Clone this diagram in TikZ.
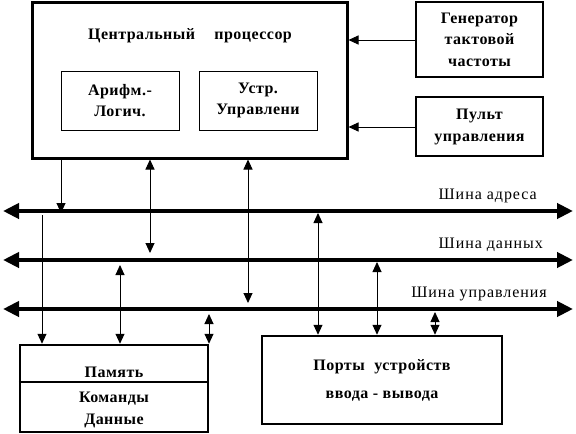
\documentclass[tikz,border=0pt]{standalone}
\usepackage{fontspec}
\setmainfont{Liberation Serif}
\usetikzlibrary{arrows.meta}
\newcommand\bxfont[1]{\bfseries\fontsize{16}{#1}\selectfont\addfontfeature{LetterSpace=3}}
\tikzset{
  bx/.style={draw, line width=#1, rectangle, inner sep=0pt, align=center,
    font=\bxfont{21}},
  bx/.default=1pt,
  bus/.style={line width=4pt, {Triangle[length=16pt,width=15pt]}-{Triangle[length=16pt,width=15pt]}},
  one/.style={line width=0.9pt, -{Triangle[length=10pt,width=9pt]}},
  two/.style={line width=0.9pt, {Triangle[length=10pt,width=9pt]}-{Triangle[length=10pt,width=9pt]}},
  buslabel/.style={anchor=south east, inner sep=0pt, font=\fontsize{16}{18}\selectfont\addfontfeature{LetterSpace=6}},
  txt/.style={inner sep=0pt, align=center, font=\bxfont{21}}
}
\begin{document}
\begin{tikzpicture}[x=1pt,y=-1pt]
\useasboundingbox (0,0) rectangle (576,434);
% CPU
\node[bx=3pt, minimum width=315pt, minimum height=156pt] (cpu) at (189.5,80) {};
\node[txt] (cput) at (190,36) {Центральный\hspace{1.2em}процессор};
\node[bx=1pt, minimum width=118pt, minimum height=59pt] (alu) at (120,100.5) {Арифм.-\\Логич.};
\node[bx=1pt, minimum width=118pt, minimum height=59pt] (cu) at (258,100.5) {Устр.\\Управлени};
% Generator, console
\node[bx=1.5pt, minimum width=127pt, minimum height=75pt, font=\bxfont{21.5}] (gen) at (479.5,39.5) {Генератор\\тактовой\\частоты};
\node[bx=1.5pt, minimum width=127pt, minimum height=59pt, font=\bxfont{22}] (pult) at (479.5,126.5) {Пульт\\управления};
\draw[one] (gen.west |- 0,40) -- (cpu.east |- 0,40);
\draw[one] (pult.west |- 0,127) -- (cpu.east |- 0,127);
% buses
\coordinate (a1) at (3,211); \coordinate (a2) at (573,211);
\coordinate (d1) at (3,260); \coordinate (d2) at (573,260);
\coordinate (c1) at (3,309); \coordinate (c2) at (573,309);
\draw[bus] (a1) -- (a2);
\draw[bus] (d1) -- (d2);
\draw[bus] (c1) -- (c2);
\node[buslabel] (la) at (537,203) {Шина адреса};
\node[buslabel] (ld) at (543,252) {Шина данных};
\node[buslabel] (lc) at (547,301) {Шина управления};
% memory
\node[bx=2.5pt, minimum width=188pt, minimum height=87pt] (mem) at (114,388.5) {};
\draw[line width=2.5pt] (mem.west |- 0,382) -- (mem.east |- 0,382);
\node[txt] (memt) at (114,372) {Память};
\node[txt, font=\bxfont{22}] (memd) at (114,410) {Команды\\Данные};
% ports
\node[bx=2.5pt, minimum width=240pt, minimum height=88pt, font=\bxfont{28}] (io) at (382,380) {Порты\hspace{0.6em}устройств\\ввода - вывода};
% vertical connectors
\draw[one] (cpu.south -| 61,0) -- (61,213);
\draw[two] (cpu.south -| 150,0) -- (150,253);
\draw[two] (cpu.south -| 248,0) -- (248,303);
\draw[one] (42,215) -- (mem.north -| 42,0);
\draw[two] (120,265) -- (mem.north -| 120,0);
\draw[two] (209,314) -- (mem.north -| 209,0);
\draw[two] (318,213) -- (io.north -| 318,0);
\draw[two] (377,262) -- (io.north -| 377,0);
\draw[two] (435,312) -- (io.north -| 435,0);
\end{tikzpicture}
\end{document}
